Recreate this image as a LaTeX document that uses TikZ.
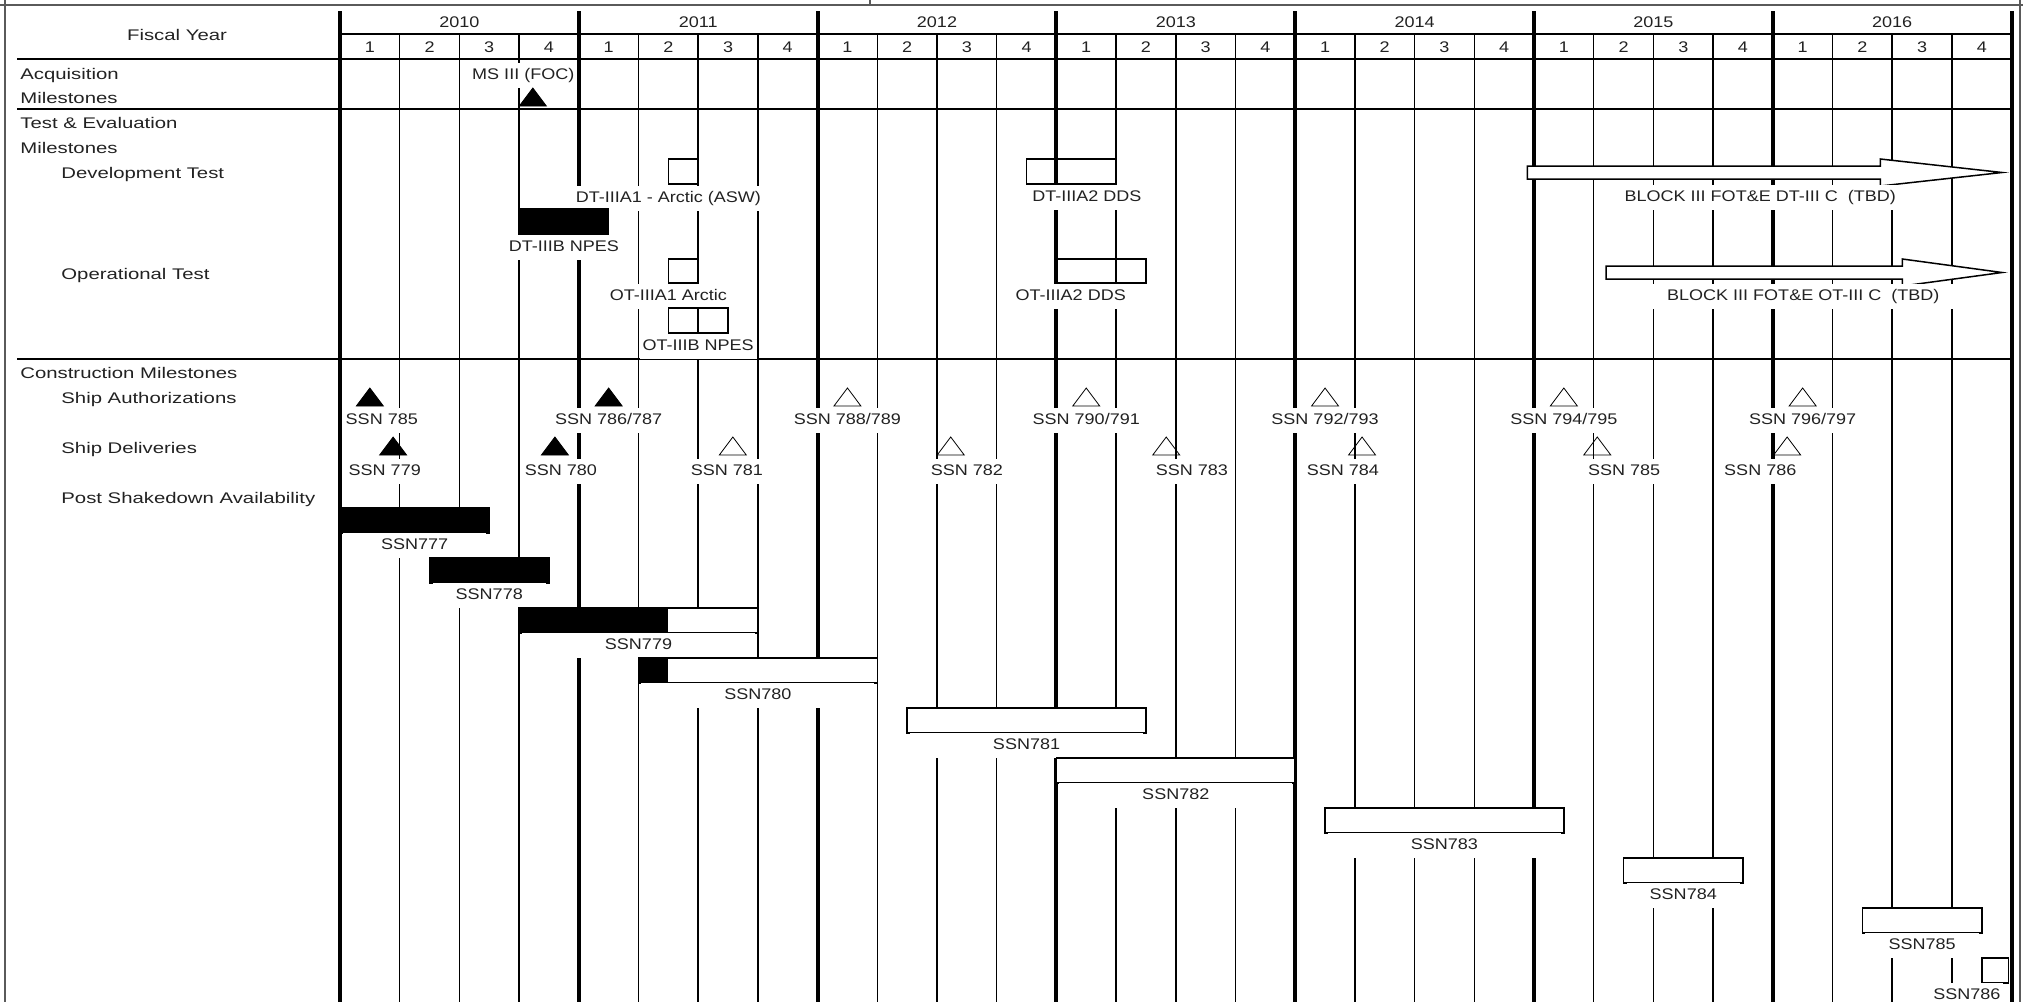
\documentclass[tikz,border=0pt]{standalone}
\usepackage{fontspec}
\setmainfont{Liberation Sans}[FakeStretch=1.17]
\newfontfamily\rowfont{Liberation Sans}[FakeStretch=1.32]
\usepackage{tikz}
\usepackage{xcolor}

\definecolor{framegray}{HTML}{5A5A5A}
\definecolor{inkgray}{HTML}{222222}

\newcommand{\psa}[5]{%
  \fill[white] (#1,#4) rectangle (#3,{#4+25});
  \fill[black] (#1,#4) rectangle (#2,{#4+25});
  \draw[qline] (#1,#4) rectangle (#3,{#4+25});
  \node[lbl, minimum width={(#3-#1)*29.85pt-3pt}] (#5) at ({(#1+#3)/2},{#4+37.5}) {#5};
}
\newcommand{\fotarrow}[4]{%
  \draw[qline, fill=white] (#1,{#4-6.5}) -- (#2,{#4-6.5}) -- (#2,{#4-13.5}) -- (#3,#4)
    -- (#2,{#4+13.5}) -- (#2,{#4+6.5}) -- (#1,{#4+6.5}) -- cycle;
}

\begin{document}
\begin{tikzpicture}[
  x=29.85pt, y=-0.5pt,
  font=\fontsize{7.7pt}{9pt}\selectfont,
  every node/.style={text=inkgray},
  yearline/.style={line width=2pt},
  qline/.style={line width=0.75pt},
  hline/.style={line width=0.75pt},
  openbox/.style={draw, line width=0.75pt},
  lbl/.style={fill=white, inner xsep=1.5pt, inner ysep=0pt, minimum height=12.5pt, text height=5.8pt, text depth=1.6pt},
  rowlbl/.style={anchor=west, inner sep=0pt, text height=5.8pt, text depth=1.6pt, font=\fontsize{7.7pt}{9pt}\rowfont},
  ms/.pic={\path[pic actions] (-0.226,0) -- (0.226,0) -- (0,-18) -- cycle;}
]
\useasboundingbox (-5.695,0) rectangle (28.191,1002);

\draw[framegray, line width=1pt] (-5.611,0) -- (-5.611,1002);
\draw[framegray, line width=1pt] (-5.695,5) -- (28.191,5);
\draw[framegray, line width=1pt] (28.141,0) -- (28.141,1002);
\draw[framegray, line width=0.75pt] (8.878,0) -- (8.878,5);

\foreach \i in {1,...,27} \draw[qline] (\i,34) -- (\i,1002);
\foreach \i in {0,4,...,28} \draw[yearline] (\i,11) -- (\i,1002);
\draw[hline] (0,34) -- (28,34);
\draw[hline] (-5.41,59) -- (28,59);
\draw[hline] (-5.41,109) -- (28,109);
\draw[hline] (-5.41,359) -- (28,359);

\node[font=\fontsize{7.7pt}{9pt}\rowfont] (fy) at (-2.73,35) {Fiscal Year};
\foreach \yr [count=\i from 0] in {2010,...,2016}
  \node (fy\yr) at (4*\i+2,22) {\yr};
\foreach \i in {0,...,27}{
  \pgfmathtruncatemacro{\qn}{mod(\i,4)+1}
  \node (qn\i) at (\i+0.5,47) {\qn};
}

\node[rowlbl] (acq) at (-5.36,75) {Acquisition};
\node[rowlbl] (acqms) at (-5.36,99) {Milestones};
\node[rowlbl] (te) at (-5.36,124) {Test \& Evaluation};
\node[rowlbl] (tems) at (-5.36,149) {Milestones};
\node[rowlbl] (dev) at (-4.673,174) {Development Test};
\node[rowlbl] (op) at (-4.673,275) {Operational Test};
\node[rowlbl] (con) at (-5.36,374) {Construction Milestones};
\node[rowlbl] (auth) at (-4.673,399) {Ship Authorizations};
\node[rowlbl] (deliv) at (-4.673,449) {Ship Deliveries};
\node[rowlbl] (psa) at (-4.673,499) {Post Shakedown Availability};

\node[lbl] (ms3) at (3.07,75) {MS III (FOC)};
\pic[draw=black, fill=black] at (3.23,106) {ms};

\draw[openbox] (5.5,159) rectangle (6,184);
\node[lbl] (dt3a1) at (5.5,198) {DT-IIIA1 - Arctic (ASW)};
\draw[qline, fill=black] (3,209) rectangle (4.5,234);
\node[lbl] (dt3b) at (3.75,247) {DT-IIIB NPES};
\draw[openbox] (11.5,159) rectangle (13,184);
\node[lbl] (dt3a2) at (12.51,197) {DT-IIIA2 DDS};
\fotarrow{19.89}{25.80}{27.84}{172.5}
\node[lbl, inner xsep=14pt] (dt3c) at (23.79,197) {BLOCK III FOT\&E DT-III C~~(TBD)};

\draw[openbox] (5.5,259) rectangle (6,283);
\node[lbl] (ot3a1) at (5.5,296) {OT-IIIA1 Arctic};
\draw[openbox] (5.5,308) rectangle (6.5,333);
\node[lbl] (ot3b) at (6,346) {OT-IIIB NPES};
\draw[openbox] (12,259) rectangle (13.5,283);
\node[lbl] (ot3a2) at (12.24,296) {OT-IIIA2 DDS};
\fotarrow{21.21}{26.17}{27.84}{272.5}
\node[lbl, inner xsep=10pt] (ot3c) at (24.51,296) {BLOCK III FOT\&E OT-III C~~(TBD)};

\foreach \tq/\lq/\fc/\txt [count=\i] in {
  0.5/0.70/black/SSN 785, 4.5/4.5/black/SSN 786\slash 787,
  8.5/8.5/none/SSN 788\slash 789, 12.5/12.5/none/SSN 790\slash 791,
  16.5/16.5/none/SSN 792\slash 793, 20.5/20.5/none/SSN 794\slash 795,
  24.5/24.5/none/SSN 796\slash 797}{
  \pic[draw=black, fill=\fc] at (\tq,406) {ms};
  \node[lbl] (auth\i) at (\lq,420) {\txt};
}
\foreach \tq/\lq/\fc/\txt [count=\i] in {
  0.89/0.75/black/SSN 779, 3.60/3.70/black/SSN 780,
  6.58/6.48/none/SSN 781, 10.23/10.50/none/SSN 782,
  13.84/14.27/none/SSN 783, 17.12/16.80/none/SSN 784,
  21.06/21.51/none/SSN 785, 24.24/23.79/none/SSN 786}{
  \pic[draw=black, fill=\fc] at (\tq,455) {ms};
  \node[lbl] (deliv\i) at (\lq,471) {\txt};
}

\psa{0}{2.5}{2.5}{508}{SSN777}
\psa{1.5}{3.5}{3.5}{558}{SSN778}
\psa{3}{5.5}{7}{608}{SSN779}
\psa{5}{5.5}{9}{658}{SSN780}
\psa{9.5}{9.5}{13.5}{708}{SSN781}
\psa{12}{12}{16}{758}{SSN782}
\psa{16.5}{16.5}{20.5}{808}{SSN783}
\psa{21.5}{21.5}{23.5}{858}{SSN784}
\psa{25.5}{25.5}{27.5}{908}{SSN785}
\draw[qline, fill=white] (27.5,958) rectangle (27.95,983);
\node[lbl] (SSN786) at (27.25,995) {SSN786};
\end{tikzpicture}
\end{document}
